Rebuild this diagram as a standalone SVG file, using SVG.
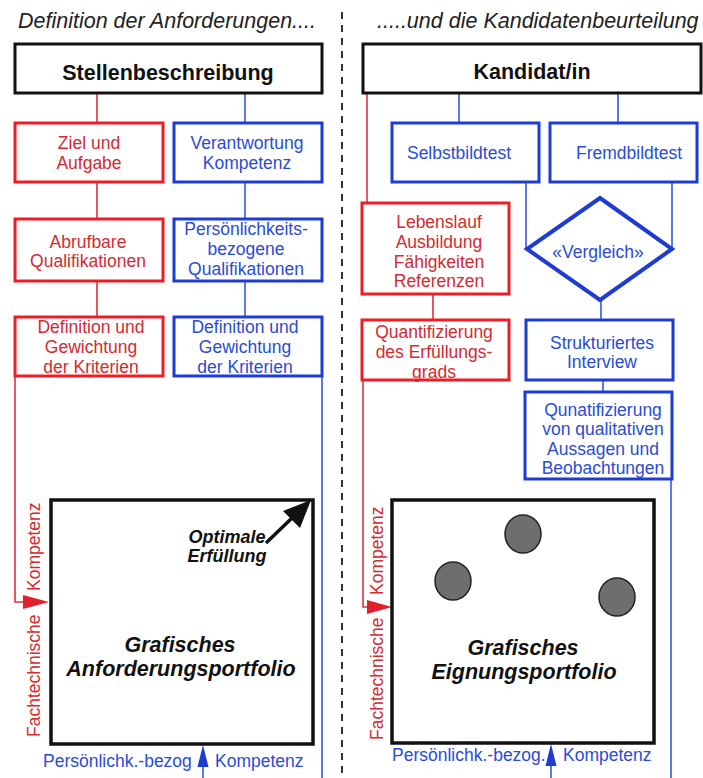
<svg xmlns="http://www.w3.org/2000/svg" width="703" height="778" viewBox="0 0 703 778">
<style>
text{font-family:"Liberation Sans",Arial,sans-serif;}
.title{font-size:21.5px;font-style:italic;fill:#222;}
.head{font-size:21.5px;font-weight:bold;fill:#111;text-anchor:middle;}
.hbox{fill:#fff;stroke:#111;stroke-width:3;}
.rbox{fill:#fff;stroke:#ee1c24;stroke-width:3;}
.bbox{fill:#fff;stroke:#1e3cd2;stroke-width:3;}
.rt{font-size:17.5px;fill:#d42a30;text-anchor:middle;}
.bt{font-size:17.5px;fill:#2a4cd6;text-anchor:middle;}
.rl{fill:none;stroke:#e0303c;stroke-width:1.6;}
.bl{fill:none;stroke:#3558e0;stroke-width:1.6;}
.port{fill:#fff;stroke:#111;stroke-width:3.5;}
.pt{font-size:21.5px;font-weight:bold;font-style:italic;fill:#111;text-anchor:middle;}
.dot{fill:#6e6e6e;stroke:#222;stroke-width:1.5;}
</style>

<g id="titles">
<text class="title" x="18" y="28">Definition der Anforderungen....</text>
<text class="title" x="377" y="28">.....und die Kandidatenbeurteilung</text>
<line x1="342" y1="12" x2="342" y2="778" stroke="#333" stroke-width="2" stroke-dasharray="7 6"/>
</g>

<g id="connectors">
<line class="rl" x1="97" y1="93" x2="97" y2="123"/>
<line class="bl" x1="245" y1="93" x2="245" y2="123"/>
<line class="rl" x1="97" y1="182" x2="97" y2="219"/>
<line class="bl" x1="245" y1="182" x2="245" y2="219"/>
<line class="rl" x1="97" y1="281" x2="97" y2="317"/>
<line class="bl" x1="245" y1="281" x2="245" y2="317"/>
<polyline class="rl" points="15,376 15,602 26,602"/>
<polygon points="23,595 49,602 23,609" fill="#e0202c"/>
<line class="bl" x1="322" y1="376" x2="322" y2="778"/>
<line class="bl" x1="203" y1="778" x2="203" y2="764"/>
<polygon points="197.5,767 203,745 208.5,767" fill="#1e3cd2"/>

<line class="rl" x1="367" y1="93" x2="367" y2="203"/>
<line class="bl" x1="459" y1="93" x2="459" y2="123"/>
<line class="bl" x1="618" y1="93" x2="618" y2="123"/>
<line class="bl" x1="526" y1="182" x2="526" y2="249"/>
<line class="bl" x1="672" y1="182" x2="672" y2="249"/>
<line class="bl" x1="601" y1="300" x2="601" y2="320"/>
<line class="rl" x1="433" y1="294" x2="433" y2="320"/>
<line class="bl" x1="603" y1="380" x2="603" y2="392"/>
<polyline class="rl" points="363,380 363,607 370,607"/>
<polygon points="367,600 392,607 367,614" fill="#e0202c"/>
<line class="bl" x1="671" y1="479" x2="671" y2="778"/>
<line class="bl" x1="551" y1="778" x2="551" y2="763"/>
<polygon points="545.5,766 551,744 556.5,766" fill="#1e3cd2"/>
</g>

<g id="stellenbeschreibung">
<rect class="hbox" x="15" y="44" width="307" height="49"/>
<text class="head" x="168" y="80">Stellenbeschreibung</text>
</g>
<g id="ziel">
<rect class="rbox" x="15" y="123" width="148" height="59"/>
<text class="rt" x="89" y="149">Ziel und</text>
<text class="rt" x="89" y="169">Aufgabe</text>
</g>
<g id="verantwortung">
<rect class="bbox" x="174" y="123" width="148" height="59"/>
<text class="bt" x="247" y="149">Verantwortung</text>
<text class="bt" x="247" y="169">Kompetenz</text>
</g>
<g id="abrufbare">
<rect class="rbox" x="15" y="219" width="148" height="62"/>
<text class="rt" x="88" y="248">Abrufbare</text>
<text class="rt" x="88" y="267">Qualifikationen</text>
</g>
<g id="persoenlich">
<rect class="bbox" x="174" y="219" width="148" height="62"/>
<text class="bt" x="246" y="235">Persönlichkeits-</text>
<text class="bt" x="246" y="255">bezogene</text>
<text class="bt" x="246" y="275">Qualifikationen</text>
</g>
<g id="definition-rot">
<rect class="rbox" x="15" y="317" width="148" height="59"/>
<text class="rt" x="91" y="333">Definition und</text>
<text class="rt" x="91" y="353">Gewichtung</text>
<text class="rt" x="91" y="373">der Kriterien</text>
</g>
<g id="definition-blau">
<rect class="bbox" x="174" y="317" width="148" height="59"/>
<text class="bt" x="245" y="333">Definition und</text>
<text class="bt" x="245" y="353">Gewichtung</text>
<text class="bt" x="245" y="373">der Kriterien</text>
</g>

<g id="anforderungsportfolio">
<rect class="port" x="51" y="500" width="262" height="244"/>
<text class="pt" x="180" y="652">Grafisches</text>
<text class="pt" x="181" y="676">Anforderungsportfolio</text>
<text class="pt" x="227" y="543" style="font-size:18px">Optimale</text>
<text class="pt" x="227" y="562" style="font-size:18px">Erfüllung</text>
<line x1="266" y1="543" x2="292" y2="518" stroke="#111" stroke-width="3.5"/>
<polygon points="311,500 300,528 283,511" fill="#111"/>
<text class="rt" style="text-anchor:start" transform="translate(40,737) rotate(-90)">Fachtechnische</text>
<text class="rt" style="text-anchor:start" transform="translate(40,591) rotate(-90)">Kompetenz</text>
<text class="bt" style="text-anchor:start" x="43" y="767">Persönlichk.-bezog</text>
<text class="bt" style="text-anchor:start" x="215" y="767">Kompetenz</text>
</g>

<g id="kandidat">
<rect class="hbox" x="363" y="44" width="338" height="49"/>
<text class="head" x="532" y="79">Kandidat/in</text>
</g>
<g id="selbstbildtest">
<rect class="bbox" x="392" y="123" width="147" height="59"/>
<text class="bt" x="459" y="159">Selbstbildtest</text>
</g>
<g id="fremdbildtest">
<rect class="bbox" x="550" y="123" width="147" height="59"/>
<text class="bt" x="629" y="159">Fremdbildtest</text>
</g>
<g id="vergleich">
<polygon points="600,198 672,249 600,300 527,249" fill="#fff" stroke="#1e3cd2" stroke-width="4"/>
<text class="bt" x="598" y="258">«Vergleich»</text>
</g>
<g id="lebenslauf">
<rect class="rbox" x="362" y="203" width="147" height="91"/>
<text class="rt" x="439" y="228">Lebenslauf</text>
<text class="rt" x="439" y="248">Ausbildung</text>
<text class="rt" x="439" y="268">Fähigkeiten</text>
<text class="rt" x="439" y="287">Referenzen</text>
</g>
<g id="quantifizierung">
<rect class="rbox" x="362" y="320" width="147" height="60"/>
<text class="rt" x="434" y="338">Quantifizierung</text>
<text class="rt" x="434" y="358">des Erfüllungs-</text>
<text class="rt" x="434" y="378">grads</text>
</g>
<g id="interview">
<rect class="bbox" x="526" y="320" width="147" height="60"/>
<text class="bt" x="602" y="349">Strukturiertes</text>
<text class="bt" x="602" y="368">Interview</text>
</g>
<g id="qunatifizierung">
<rect class="bbox" x="525" y="392" width="147" height="87"/>
<text class="bt" x="603" y="416">Qunatifizierung</text>
<text class="bt" x="603" y="435">von qualitativen</text>
<text class="bt" x="603" y="455">Aussagen und</text>
<text class="bt" x="603" y="474">Beobachtungen</text>
</g>

<g id="eignungsportfolio">
<rect class="port" x="392" y="500" width="262" height="243"/>
<ellipse class="dot" cx="523" cy="534" rx="18" ry="19"/>
<ellipse class="dot" cx="453" cy="581" rx="18" ry="19"/>
<ellipse class="dot" cx="617" cy="597" rx="18" ry="19"/>
<text class="pt" x="523" y="655">Grafisches</text>
<text class="pt" x="524" y="679">Eignungsportfolio</text>
<text class="rt" style="text-anchor:start" transform="translate(383,740) rotate(-90)">Fachtechnische</text>
<text class="rt" style="text-anchor:start" transform="translate(383,595) rotate(-90)">Kompetenz</text>
<text class="bt" style="text-anchor:start" x="392" y="761">Persönlichk.-bezog.</text>
<text class="bt" style="text-anchor:start" x="563" y="761">Kompetenz</text>
</g>
</svg>
